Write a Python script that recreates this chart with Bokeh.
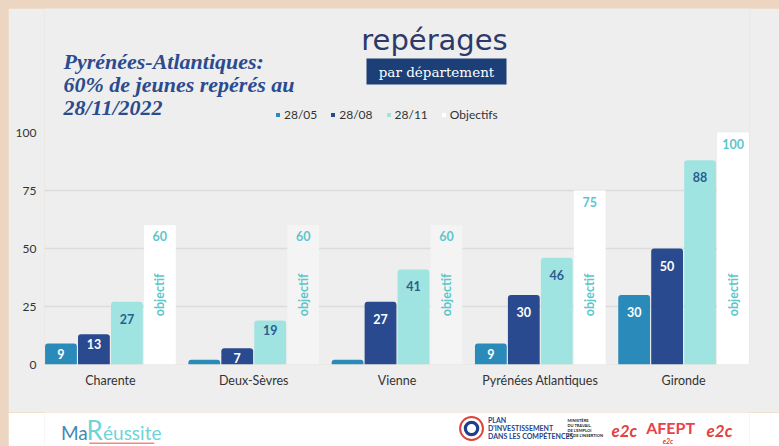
import numpy as np
from bokeh.plotting import figure
from bokeh.models import (ColumnDataSource, Range1d, FixedTicker, Label,
                          BoxAnnotation, Legend, LegendItem)
from bokeh.layouts import column
from bokeh.transform import dodge
from bokeh.core.properties import value
from bokeh.embed import file_html
from bokeh.resources import INLINE

# ---------------- data ----------------
departements = ["Charente", "Deux-Sèvres", "Vienne", "Pyrénées Atlantiques", "Gironde"]
reperes_2805 = [9, 2, 2, 9, 30]
reperes_2808 = [13, 7, 27, 30, 50]
reperes_2811 = [27, 19, 41, 46, 88]
objectifs = [60, 60, 60, 75, 100]
series_labels = ["28/05", "28/08", "28/11", "Objectifs"]
y_ticks = [0, 25, 50, 75, 100]
grid_ticks = [25, 50, 75]
title_lines = ["Pyrénées-Atlantiques:", "60% de jeunes repérés au", "28/11/2022"]

# ---------------- styles ----------------
C1, C2, C3 = "#2a8bba", "#2a4a8f", "#a0e4e2"
OBJ_COLORS = ["#ffffff", "#f4f4f4", "#f4f4f4", "#ffffff", "#ffffff"]
TEAL = "#5ec6ca"
PANEL = "#eeeeee"
SANS = "Lato"

W, H_MAIN, H_FOOT = 771, 404, 34
X0_PAGE, X1_PAGE = 44, 749     # frame left/right on page
YB_PAGE = 364                  # baseline (0) on page
PX_PER_UNIT_Y = 2.32
XR = (-0.46, 4.46)
PX_PER_UNIT_X = (X1_PAGE - X0_PAGE) / (XR[1] - XR[0])


def sx(X):
    return (X - X0_PAGE) / PX_PER_UNIT_X + XR[0]


def sy(Y):
    return (YB_PAGE - Y) / PX_PER_UNIT_Y


def mid_of(baseline, size):
    # vertical middle of a line of text whose alphabetic baseline is given
    return baseline - 0.33 * size


p = figure(width=W, height=H_MAIN, output_backend="svg", toolbar_location=None,
           x_range=Range1d(*XR), y_range=Range1d(0, sy(8)),
           min_border_left=X0_PAGE - 8, min_border_right=W - (X1_PAGE - 8),
           min_border_top=0, min_border_bottom=H_MAIN - (YB_PAGE - 8))
p.background_fill_color = PANEL
p.border_fill_color = PANEL
p.outline_line_color = None
p.xgrid.visible = False
p.ygrid.ticker = FixedTicker(ticks=grid_ticks)
p.ygrid.grid_line_color = "#dcdcdc"
p.ygrid.grid_line_width = 1.5

p.yaxis.ticker = FixedTicker(ticks=y_ticks)
p.xaxis.ticker = FixedTicker(ticks=list(range(len(departements))))
p.xaxis.major_label_overrides = {i: d for i, d in enumerate(departements)}
for ax in (p.xaxis, p.yaxis):
    ax.axis_line_color = None
    ax.major_tick_line_color = None
    ax.minor_tick_line_color = None
    ax.major_tick_out = 0
    ax.major_tick_in = 0
    ax.minor_tick_out = 0
    ax.major_label_text_font = SANS
    ax.major_label_text_color = "#333333"
p.yaxis.major_label_text_font_size = "12px"
p.xaxis.major_label_text_font_size = "12.5px"
p.yaxis.major_label_standoff = 8
p.xaxis.major_label_standoff = 8

idx = list(range(len(departements)))
src = ColumnDataSource(dict(x=idx, d1=reperes_2805, d2=reperes_2808,
                            d3=reperes_2811, obj=objectifs, objc=OBJ_COLORS))

BW = 0.222
offs = [-0.345, -0.115, 0.115, 0.345]
r1 = p.vbar(x=dodge("x", offs[0]), top="d1", width=BW, source=src,
            fill_color=C1, line_color=None, border_radius=[3, 3, 0, 0])
r2 = p.vbar(x=dodge("x", offs[1]), top="d2", width=BW, source=src,
            fill_color=C2, line_color=None, border_radius=[3, 3, 0, 0])
r3 = p.vbar(x=dodge("x", offs[2]), top="d3", width=BW, source=src,
            fill_color=C3, line_color=None, border_radius=[3, 3, 0, 0])
r4 = p.vbar(x=dodge("x", offs[3]), top="obj", width=BW, source=src,
            fill_color="objc", line_color=None)


def add_labels(vals, off, color):
    txt = [str(v) if v >= 5 else "" for v in vals]
    yo = [10 if v < 25 else 17 for v in vals]
    s = ColumnDataSource(dict(x=idx, y=vals, t=txt, yo=yo))
    p.text(x=dodge("x", off), y="y", text="t", y_offset="yo", source=s,
           text_align="center", text_baseline="middle",
           text_font=value(SANS), text_font_style="bold",
           text_font_size="12.5px", text_color=color)


add_labels(reperes_2805, offs[0], "#ffffff")
add_labels(reperes_2808, offs[1], "#ffffff")
add_labels(reperes_2811, offs[2], "#2c5d8f")

so = ColumnDataSource(dict(x=idx, y=objectifs, t=[str(v) for v in objectifs],
                           mid=[30] * len(idx), w=["objectif"] * len(idx)))
p.text(x=dodge("x", offs[3]), y="y", text="t", y_offset=11, source=so,
       text_align="center", text_baseline="middle", text_font=value(SANS),
       text_font_style="bold", text_font_size="12.5px", text_color=TEAL)
p.text(x=dodge("x", offs[3]), y="mid", text="w", source=so, angle=np.pi / 2,
       text_align="center", text_baseline="middle", text_font=value(SANS),
       text_font_style="bold", text_font_size="12.5px", text_color=TEAL)

# legend
legend = Legend(items=[LegendItem(label=l, renderers=[r])
                       for l, r in zip(series_labels, [r1, r2, r3, r4])],
                orientation="horizontal", location=(275 - X0_PAGE, YB_PAGE - 115 - 7),
                glyph_width=5, glyph_height=5, label_standoff=4, spacing=13,
                padding=0, margin=0, label_height=14,
                label_text_font=SANS, label_text_font_size="12px",
                label_text_color="#333333",
                background_fill_alpha=0, border_line_alpha=0)
p.add_layout(legend, "center")

# titles
for txt, base in zip(title_lines, [68, 91, 114]):
    p.add_layout(Label(x=sx(63), y=sy(mid_of(base, 22)), text=txt,
                       text_font="Liberation Serif", text_font_size="22px",
                       text_font_style="bold italic", text_color="#2c4b8e",
                       text_baseline="middle"))

p.add_layout(BoxAnnotation(left=sx(366), right=sx(506), top=sy(58), bottom=sy(84),
                           fill_color="#1c3f77", fill_alpha=1, line_color=None))
p.add_layout(Label(x=sx(434), y=sy(mid_of(49, 29)), text="repérages", text_font="DejaVu Sans",
                   text_font_size="29px", text_color="#2b3a6b",
                   text_align="center", text_baseline="middle"))
p.add_layout(Label(x=sx(436), y=sy(71), text="par département", text_font="DejaVu Serif",
                   text_font_size="13.5px", text_color="#ffffff",
                   text_align="center", text_baseline="middle"))

# ---------------- footer ----------------
f = figure(width=W, height=H_FOOT, output_backend="svg", toolbar_location=None,
           x_range=Range1d(0, W), y_range=Range1d(0, H_FOOT), min_border=0)
f.axis.visible = False
f.grid.visible = False
f.background_fill_color = "#ffffff"
f.border_fill_color = "#ffffff"
f.outline_line_color = None


def fx(X):
    return X - 8


def fy(Y):
    return 446 - Y


def flabel(X, base, text, size, color, font=SANS, style="normal"):
    f.add_layout(Label(x=fx(X), y=fy(mid_of(base, size)), text=text, text_font=font,
                       text_font_size=f"{size}px", text_color=color,
                       text_font_style=style, text_baseline="middle"))


f.add_layout(BoxAnnotation(left=fx(57), right=fx(128), bottom=fy(443.5), top=fy(442),
                           fill_color="#f08a80", fill_alpha=1, line_color=None))
flabel(26, 438, "Ma", 19, "#3f88b5")
flabel(54, 438, "R", 26, "#6fd3d9")
flabel(72, 438, "éussite", 19, "#6fd3d9")

f.circle(x=[fx(475)], y=[fy(428)], radius=12.5, fill_color="#ffffff",
         line_color="#d9453d", line_width=2)
f.circle(x=[fx(475)], y=[fy(428)], radius=8.5, fill_color="#1f3f8a", line_color=None)
f.circle(x=[fx(475)], y=[fy(428)], radius=5, fill_color="#ffffff", line_color=None)
flabel(493, 422, "PLAN", 7, "#1f3f8a", style="bold")
flabel(493, 430, "D'INVESTISSEMENT", 7, "#1f3f8a", style="bold")
flabel(493, 438, "DANS LES COMPÉTENCES", 7, "#1f3f8a", style="bold")

flabel(580, 421, "MINISTÈRE", 4, "#222222", style="bold")
flabel(580, 426, "DU TRAVAIL,", 4, "#222222", style="bold")
flabel(580, 431, "DE L'EMPLOI", 4, "#222222", style="bold")
flabel(580, 436, "ET DE L'INSERTION", 4, "#222222", style="bold")

flabel(628, 436, "e2c", 17, "#e0443e", style="bold italic")
flabel(666, 432, "AFEPT", 16, "#e8424a", style="bold")
flabel(684, 443, "e2c", 7, "#e0443e", style="bold italic")
flabel(732, 436, "e2c", 17, "#e0443e", style="bold italic")

layout = column(p, f, spacing=0)
html = file_html(layout, INLINE)
css = ("<style>html, body { margin: 0 !important; overflow: hidden; } "
       "body { padding: 8px 0 0 8px !important; box-sizing: border-box; "
       "background-color: #ecd6c1 !important; }</style>")
html = html.replace("</head>", css + "</head>", 1)
open("out.html", "w").write(html)
